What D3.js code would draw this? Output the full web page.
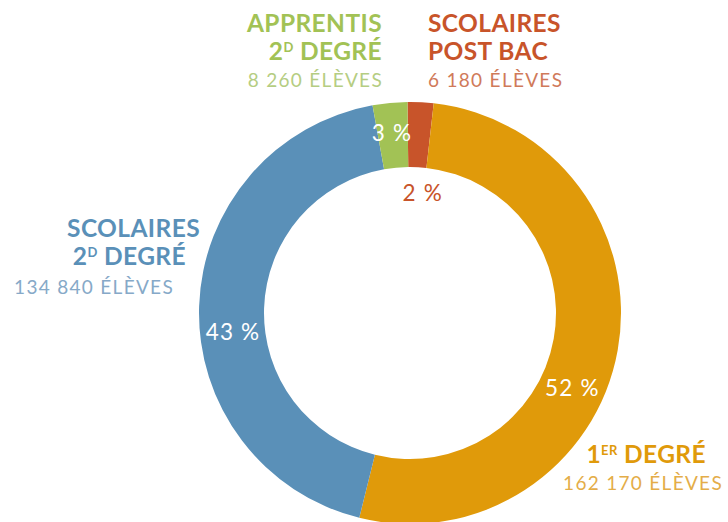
<!DOCTYPE html>
<html><head><meta charset="utf-8">
<script src="https://cdn.jsdelivr.net/npm/d3@7"></script>
<style>
html,body{margin:0;padding:0;background:#fff;}
svg{display:block;font-family:Lato, "Open Sans", sans-serif;}
</style></head>
<body>
<svg id="c" width="728" height="522"></svg>
<script>
// ---- data ----
const categories = ["SCOLAIRES POST BAC", "1ER DEGRÉ", "SCOLAIRES 2D DEGRÉ", "APPRENTIS 2D DEGRÉ"];
const values = [6180, 162170, 134840, 8260];
const valueLabels = ["6 180 ÉLÈVES", "162 170 ÉLÈVES", "134 840 ÉLÈVES", "8 260 ÉLÈVES"];
const pctLabels = ["2 %", "52 %", "43 %", "3 %"];
const colors = ["#c8542a", "#e09a0a", "#5a90b8", "#a2c255"];
const subColors = ["#d07a5a", "#e4ad48", "#86a9c8", "#b5cd82"];

// ---- layout ----
const cx = 410, cy = 313, rOuter = 211, rInner = 146;
const svg = d3.select("#c");
const g = svg.append("g").attr("transform", `translate(${cx},${cy})`);

const pie = d3.pie().sort(null).value(d => d).startAngle(-0.012).endAngle(2 * Math.PI - 0.012);
const arcs = pie(values);
const arc = d3.arc().innerRadius(rInner).outerRadius(rOuter);

g.selectAll("path").data(arcs).enter().append("path")
  .attr("d", arc).attr("fill", (d, i) => colors[i]);

// percentage labels: angle (deg) and radius
const pctPos = [
  {a: 5.6, r: 121, fill: colors[0]},
  {a: 115, r: 178, fill: "#fff"},
  {a: 264, r: 179, fill: "#fff"},
  {a: -6, r: 181, fill: "#fff"}
];
pctLabels.forEach((t, i) => {
  const p = pctPos[i];
  const a = p.a * Math.PI / 180;
  g.append("text")
    .attr("x", Math.sin(a) * p.r + 1).attr("y", -Math.cos(a) * p.r)
    .attr("dy", "0.36em").attr("text-anchor", "middle")
    .attr("font-size", 22.5).attr("font-weight", 400)
    .attr("letter-spacing", 1.2)
    .attr("fill", p.fill).text(t);
});

// category labels
function title(x, y, anchor, color, parts) {
  const t = svg.append("text").attr("x", x).attr("y", y)
    .attr("text-anchor", anchor).attr("font-size", 24.5).attr("font-weight", 700)
    .attr("letter-spacing", 0.4)
    .attr("fill", color);
  let pend = 0;
  parts.forEach(p => {
    if (p.sup) {
      t.append("tspan").attr("font-size", 13).attr("dy", -8).text(p.sup);
      pend = 8;
    } else {
      const s = t.append("tspan").text(p.t);
      if (pend) { s.attr("dy", pend); pend = 0; }
    }
  });
  return t;
}
function sub(x, y, anchor, color, text) {
  svg.append("text").attr("x", x).attr("y", y).attr("text-anchor", anchor)
    .attr("font-size", 19).attr("font-weight", 400).attr("letter-spacing", 1.3)
    .attr("fill", color).text(text);
}

// Apprentis 2d degré (index 3)
title(382, 32, "end", colors[3], [{t: "APPRENTIS"}]);
title(382, 60, "end", colors[3], [{t: "2"}, {sup: "D"}, {t: " DEGRÉ"}]);
sub(383, 87, "end", subColors[3], valueLabels[3]);

// Scolaires post bac (index 0)
title(428, 32, "start", colors[0], [{t: "SCOLAIRES"}]);
title(428, 60, "start", colors[0], [{t: "POST BAC"}]);
sub(428, 87, "start", subColors[0], valueLabels[0]);

// Scolaires 2d degré (index 2)
title(200, 237, "end", colors[2], [{t: "SCOLAIRES"}]);
title(186, 265, "end", colors[2], [{t: "2"}, {sup: "D"}, {t: " DEGRÉ"}]);
sub(174, 294, "end", subColors[2], valueLabels[2]);

// 1er degré (index 1)
title(706, 463, "end", colors[1], [{t: "1"}, {sup: "ER"}, {t: " DEGRÉ"}]);
sub(723, 490, "end", subColors[1], valueLabels[1]);
</script>
</body></html>
